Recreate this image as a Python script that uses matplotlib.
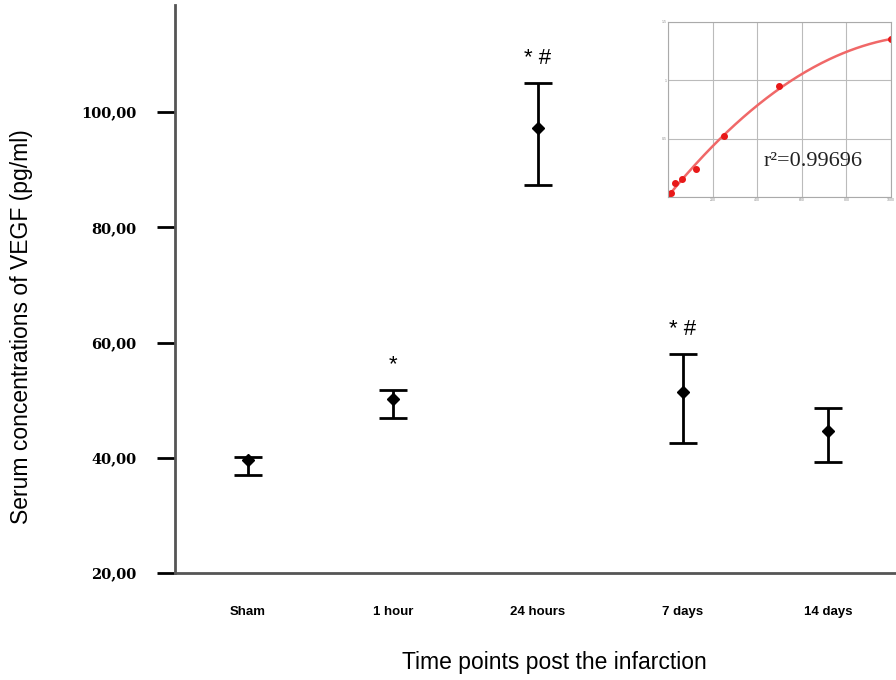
import numpy as np
import matplotlib.pyplot as plt

# ======================
# DATA
# ======================
groups = ["Sham", "1 hour", "24 hours", "7 days", "14 days"]
means = [39.6, 50.2, 97.2, 51.4, 44.6]
upper = [40.1, 51.8, 105.0, 58.0, 48.6]
lower = [37.0, 46.9, 87.3, 42.6, 39.3]
marks = ["", "*", "* #", "* #", ""]

yticks = [20, 40, 60, 80, 100]

# standard curve (inset)
std_conc = [0, 15.6, 31.25, 62.5, 125, 250, 500, 1000]
std_od = [0.01, 0.03, 0.12, 0.15, 0.24, 0.52, 0.95, 1.35]
r2_text = "r²=0.99696"

# ======================
# FIGURE
# ======================
plt.rcParams['font.family'] = ['Liberation Sans', 'DejaVu Sans']

fig = plt.figure(figsize=(8.96, 6.8), dpi=100)
ax = fig.add_axes([0.1953, 0.1574, 0.8047, 0.8352])

x = np.arange(len(groups))
m = np.array(means)
err = np.array([m - np.array(lower), np.array(upper) - m])

ax.errorbar(x, m, yerr=err, fmt='D', color='black', ms=6,
            ecolor='black', elinewidth=2, capsize=10, capthick=2)

for xi, up, t in zip(x, upper, marks):
    if t:
        ax.text(xi, up + 2.5, t, ha='center', va='bottom', fontsize=16)

ax.set_xlim(-0.503, 4.469)
ax.set_ylim(20, 118.6)
ax.set_xticks(x)
ax.set_xticklabels(groups, fontsize=9.5, fontweight='bold')
ax.set_yticks(yticks)
ax.set_yticklabels([f"{v:.2f}".replace(".", ",") for v in yticks],
                   fontsize=10.5, fontweight='bold', family='DejaVu Serif')

ax.tick_params(axis='x', length=0, pad=24)
ax.tick_params(axis='y', length=13, width=2, pad=15, direction='out')

for s in ['top', 'right']:
    ax.spines[s].set_visible(False)
for s in ['left', 'bottom']:
    ax.spines[s].set_color('#555555')
    ax.spines[s].set_linewidth(2)

fig.text(0.024, 0.52, "Serum concentrations of VEGF (pg/ml)", rotation=90,
         ha='center', va='center', fontsize=16.5)
fig.text(0.619, 0.025, "Time points post the infarction",
         ha='center', va='center', fontsize=16.5)

# ======================
# INSET
# ======================
ins = fig.add_axes([0.7455, 0.7103, 0.2489, 0.2574])
cx = np.array(std_conc)
cy = np.array(std_od)
coef = np.polyfit(cx, cy, 2)
xs = np.linspace(0, 1000, 200)
ins.plot(xs, np.polyval(coef, xs), color='#f06868', lw=1.8)
ins.plot(cx, cy, 'o', color='#e81818', ms=4)
ins.set_xlim(0, 1000)
ins.set_ylim(0, 1.5)
ins.set_xticks([0, 200, 400, 600, 800, 1000])
ins.set_yticks([0, 0.5, 1, 1.5])
ins.set_xticklabels(["", "200", "400", "600", "800", "1000"])
ins.set_yticklabels(["", "0.5", "1", "1.5"])
ins.tick_params(labelsize=2.5, length=0, pad=1, colors='#888888')
ins.grid(True, color='#bbbbbb', lw=0.8)
for s in ins.spines.values():
    s.set_color('#aaaaaa')
    s.set_linewidth(0.8)
ins.text(0.43, 0.2, r2_text, transform=ins.transAxes, fontsize=16,
         family='Liberation Serif', color='#222222', va='center')

fig.savefig("out.png", dpi=100)
